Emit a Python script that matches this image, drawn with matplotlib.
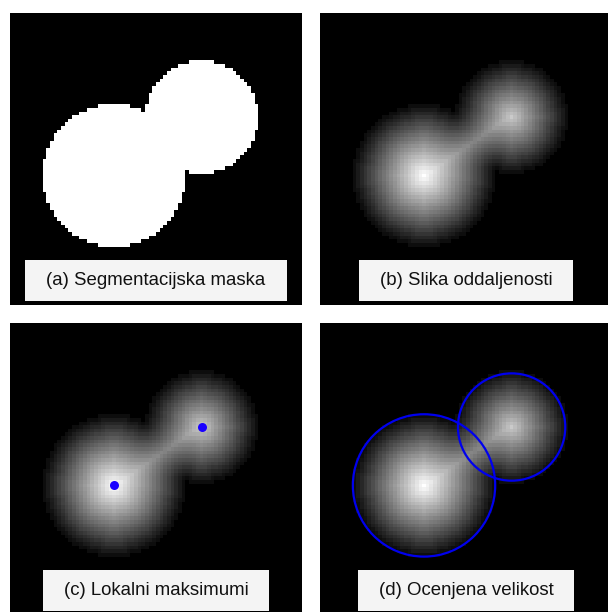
import numpy as np
import matplotlib as mpl
import matplotlib.pyplot as plt
from matplotlib.patches import Circle, Rectangle

mpl.rcParams['font.family'] = ['Liberation Sans', 'DejaVu Sans']

# image grid (cells)
grid_size = 80
# the two blobs of the segmentation mask: centre x, centre y, radius (cells)
blob_x = [28, 52]
blob_y = [44, 28]
blob_r = [19.5, 15.3]
# local maxima of the distance image and estimated sizes (radii)
peak_x = [28, 52]
peak_y = [44, 28]
est_r = [19.5, 14.7]
titles = ['(a) Segmentacijska maska', '(b) Slika oddaljenosti',
          '(c) Lokalni maksimumi', '(d) Ocenjena velikost']

# build the mask
yy, xx = np.mgrid[0:grid_size, 0:grid_size]
mask = np.zeros((grid_size, grid_size), bool)
for cx, cy, r in zip(blob_x, blob_y, blob_r):
    mask |= (xx - cx) ** 2 + (yy - cy) ** 2 <= r ** 2

# euclidean distance to the nearest background cell (brute force)
fg = np.argwhere(mask)
bg = np.argwhere(~mask)
d2 = ((fg[:, None, :] - bg[None, :, :]) ** 2).sum(-1).min(1)
dist = np.zeros(mask.shape)
dist[fg[:, 0], fg[:, 1]] = np.sqrt(d2)

W, H = 608, 612
fig = plt.figure(figsize=(W / 100, H / 100), dpi=100)
size = 292
origins = [(10, 13), (320, 13), (10, 323), (320, 323)]
axes = []
for (x0, y0) in origins:
    ax = fig.add_axes([x0 / W, (H - y0 - size) / H, size / W, size / H])
    ax.set_axis_off()
    axes.append(ax)

axes[0].imshow(mask, cmap='gray', interpolation='nearest', vmin=0, vmax=1)
for ax in axes[1:]:
    ax.imshow(dist, cmap='gray', interpolation='nearest', vmin=0, vmax=dist.max())

axes[2].plot(peak_x, peak_y, 'o', color='#1a00ff', ms=6.5, mec='none')
for cx, cy, r in zip(peak_x, peak_y, est_r):
    axes[3].add_patch(Circle((cx, cy), r, fill=False, ec='#0000ee', lw=1.6))
for ax in axes:
    ax.set_xlim(-0.5, grid_size - 0.5)
    ax.set_ylim(grid_size - 0.5, -0.5)

fig.canvas.draw()
renderer = fig.canvas.get_renderer()
for ax, t in zip(axes, titles):
    txt = ax.text(0.5, 0.0839, t, transform=ax.transAxes, ha='center',
                  va='center', fontsize=13.4, color='#111111', zorder=5)
    bb = txt.get_window_extent(renderer)
    wpx = bb.width + 42
    hpx = 41
    ax.add_patch(Rectangle((0.5 - wpx / 2 / size, 0.0839 - hpx / 2 / size),
                           wpx / size, hpx / size, transform=ax.transAxes,
                           fc='#f4f4f4', ec='none', zorder=4, clip_on=False))

fig.savefig('out.png', dpi=100)
